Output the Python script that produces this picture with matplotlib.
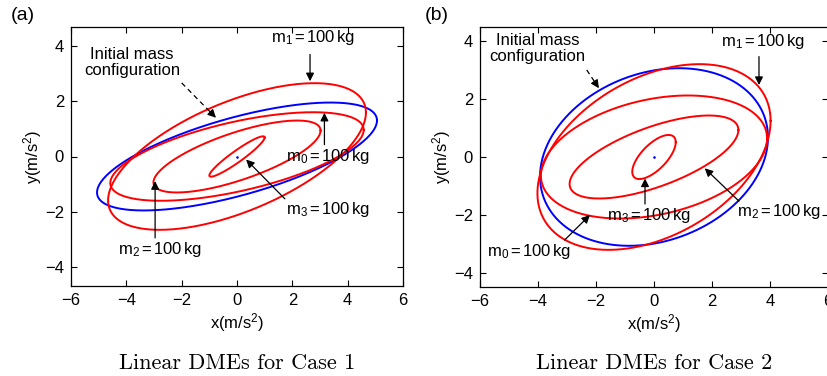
import numpy as np
import matplotlib
matplotlib.use('Agg')
import matplotlib.pyplot as plt

plt.rcParams['font.family'] = ['Liberation Sans', 'DejaVu Sans']
plt.rcParams['mathtext.fontset'] = 'custom'
plt.rcParams['mathtext.rm'] = 'Liberation Sans'
plt.rcParams['mathtext.it'] = 'Liberation Sans:italic'
plt.rcParams['mathtext.default'] = 'regular'

# ---------------- data ----------------
# each ellipse: x = ax*cos(t), y = ay*cos(t - acos(c))
ellipse_names = ['initial', 'm1', 'm0', 'm2', 'm3']
ellipse_colors = ['#0000ff', '#ff0000', '#ff0000', '#ff0000', '#ff0000']

case1_ax = [5.06, 4.66, 4.58, 3.02, 1.00]
case1_ay = [1.95, 2.65, 1.60, 1.30, 0.73]
case1_c = [0.667, 0.60, 0.60, 0.72, 0.94]

case2_ax = [3.93, 4.02, 3.90, 2.91, 0.75]
case2_ay = [3.06, 3.20, 2.12, 1.43, 0.76]
case2_c = [0.22, 0.39, 0.30, 0.65, 0.67]

x_ticks = [-6, -4, -2, 0, 2, 4, 6]
y_ticks = [-4, -2, 0, 2, 4]

mass_label = r'm$_{%s}$$\,$=$\,$100$\,$kg'

# annotations: (subscript, text xy, arrow start, arrow end)
case1_notes = [
    ('1', (2.76, 4.29), (2.64, 3.69), (2.64, 2.72)),
    ('0', (3.30, 0.00), (3.16, 0.43), (3.16, 1.58)),
    ('3', (3.30, -1.92), (1.73, -1.53), (0.33, -0.11)),
    ('2', (-2.80, -3.36), (-2.96, -2.94), (-2.96, -0.89)),
]
case1_initial = ((-3.80, 3.39), (-2.00, 2.66), (-0.76, 1.40))

case2_notes = [
    ('1', (3.74, 3.98), (3.62, 3.46), (3.62, 2.48)),
    ('2', (4.31, -1.89), (2.93, -1.52), (1.75, -0.39)),
    ('3', (-0.17, -2.03), (-0.31, -1.62), (-0.31, -0.74)),
    ('0', (-4.31, -3.26), (-3.08, -2.86), (-2.21, -2.00)),
]
case2_initial = ((-4.02, 3.75), (-2.32, 3.00), (-1.90, 2.37))

captions = ['Linear DMEs for Case 1', 'Linear DMEs for Case 2']
panel_tags = ['(a)', '(b)']

# ---------------- figure ----------------
W, H = 828, 376
fig = plt.figure(figsize=(W / 100, H / 100), dpi=100)

ax1 = fig.add_axes([71 / W, (H - 286) / H, 332 / W, 259 / H])
ax2 = fig.add_axes([480 / W, (H - 287) / H, 348 / W, 260 / H])

t = np.linspace(0, 2 * np.pi, 400)
FS = 12


def draw(ax, axs, ays, cs, notes, initial, ylim):
    for a, b, c, col in zip(axs, ays, cs, ellipse_colors):
        phi = np.arccos(c)
        ax.plot(a * np.cos(t), b * np.cos(t - phi), color=col, lw=1.4)
    ax.plot([0], [0], marker='s', ms=0.8, color='#0000ff', lw=0)
    for sub, txy, a0, a1 in notes:
        ax.text(txy[0], txy[1], mass_label % sub, ha='center', va='center',
                fontsize=FS)
        ax.annotate('', xy=a1, xytext=a0,
                    arrowprops=dict(arrowstyle='-|>', color='k', lw=0.9,
                                    mutation_scale=12, shrinkA=0, shrinkB=0))
    txy, a0, a1 = initial
    ax.text(txy[0], txy[1], 'Initial mass\nconfiguration', ha='center',
            va='center', fontsize=FS, linespacing=1.1)
    # dashed shaft with a solid head
    fx = a0[0] + 0.8 * (a1[0] - a0[0])
    fy = a0[1] + 0.8 * (a1[1] - a0[1])
    ax.plot([a0[0], fx], [a0[1], fy], color='k', lw=0.9, ls=(0, (4, 3)))
    ax.annotate('', xy=a1, xytext=(fx, fy),
                arrowprops=dict(arrowstyle='-|>', color='k', lw=0.9,
                                mutation_scale=12, shrinkA=0, shrinkB=0))
    ax.set_xlim(-6, 6)
    ax.set_ylim(-ylim, ylim)
    ax.set_xticks(x_ticks)
    ax.set_yticks(y_ticks)
    ax.set_xticklabels([str(v).replace('-', '\u2212') for v in x_ticks])
    ax.set_yticklabels([str(v).replace('-', '\u2212') for v in y_ticks])
    ax.tick_params(direction='in', top=True, right=True, length=4,
                   width=0.8, labelsize=FS, pad=5)
    for s in ax.spines.values():
        s.set_linewidth(0.9)
    ax.set_xlabel(r'x(m/s$^2$)', fontsize=FS, labelpad=2)
    ax.set_ylabel(r'y(m/s$^2$)', fontsize=FS, labelpad=1)


draw(ax1, case1_ax, case1_ay, case1_c, case1_notes, case1_initial, 4.68)
draw(ax2, case2_ax, case2_ay, case2_c, case2_notes, case2_initial, 4.48)

fig.text(23 / W, 1 - 15 / H, panel_tags[0], ha='center', va='center', fontsize=14)
fig.text(437 / W, 1 - 15 / H, panel_tags[1], ha='center', va='center', fontsize=14)
fig.text(236.7 / W, 1 - 363 / H, captions[0], ha='center', va='center',
         family='cmr10', fontsize=16)
fig.text(654 / W, 1 - 363 / H, captions[1], ha='center', va='center',
         family='cmr10', fontsize=16)

fig.savefig('out.png', dpi=100)
